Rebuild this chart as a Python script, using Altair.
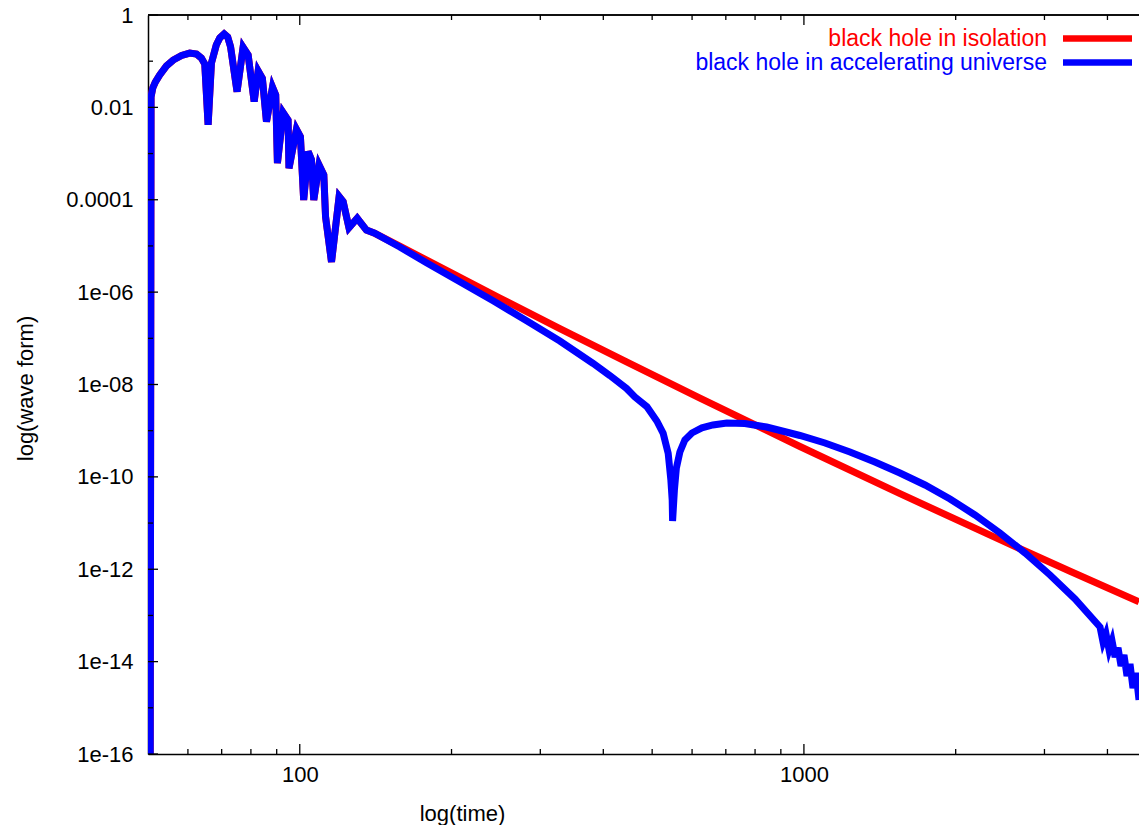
import altair as alt
import pandas as pd

# ---- data ----
# shared ring-down part (both curves coincide here)
t_early = [50.5, 50.7, 51.1, 51.7, 52.75, 54.4, 56.1, 58.3, 60.5, 62.4, 63.8, 64.8,
           65.8, 66.8, 68.3, 69.4, 70.8, 71.95, 72.9, 75.1, 77.2, 79.0,
           81.2, 82.7, 84.3, 85.9, 88.3, 89.6, 90.3, 92.7, 94.8, 95.2, 98.5, 100.3,
           101.8, 103.9, 105.5, 106.6, 109.2, 111.6, 112.5, 115.6, 119.7, 121.9,
           125.2, 130.0, 135.6, 140.8]
v_early = [1e-17, 0.017, 0.0263, 0.0354, 0.0502, 0.0787, 0.106, 0.133, 0.150, 0.143,
           0.117, 0.087, 0.0042, 0.0914, 0.224, 0.318, 0.388, 0.334, 0.206,
           0.0219, 0.2, 0.136, 0.0133, 0.0614, 0.0426, 0.0049, 0.0272, 0.0185, 0.00062,
           0.00767, 0.00533, 0.00048, 0.00335, 0.00232, 9.9e-5, 0.0011, 0.00073, 9.9e-5,
           0.000566, 0.000344, 4.3e-5, 4.5e-6, 0.000117, 9.1e-5, 2.48e-5, 3.97e-5,
           2.2e-5, 1.88e-5]

# power-law tail, isolated black hole
t_isolation = [157.9, 198.5, 249.4, 328.0, 444.8, 622.0, 982, 1550.6, 2448, 3372, 4620]
v_isolation = [9.93e-6, 2.70e-6, 7.46e-7, 1.63e-7, 3.09e-8, 5.06e-9, 4.55e-10,
               4.33e-11, 4.37e-12, 9.04e-13, 1.98e-13]

# tail in the accelerating universe
t_accel = [157.9, 178.4, 207.7, 241.8, 281.8, 328.0, 381.9, 412.2, 444.8, 462.0,
           488.2, 510.8, 525.8, 538.0, 544.6, 547.9, 548.9, 553.5, 558.5, 567.5,
           580.6, 599.5, 627.6, 659.9, 703.4, 763.6, 843.3, 982, 1101, 1234, 1383,
           1550.6, 1738.6, 1949, 2184, 2448, 2745, 3077, 3449, 3867,
           3920, 3974, 4030, 4085, 4142, 4198, 4256, 4314, 4374, 4434, 4495, 4557, 4620]
v_accel = [9.5e-6, 4.30e-6, 1.68e-6, 6.5e-7, 2.41e-7, 8.75e-8, 2.85e-8, 1.56e-8,
           8.2e-9, 5.37e-9, 3.31e-9, 1.62e-9, 8.79e-10, 3.24e-10, 8.57e-11, 3.16e-11,
           1.11e-11, 5.2e-11, 1.56e-10, 3.46e-10, 6.29e-10, 8.91e-10, 1.15e-9,
           1.33e-9, 1.47e-9, 1.43e-9, 1.20e-9, 7.87e-10, 5.42e-10, 3.46e-10, 2.10e-10,
           1.21e-10, 6.68e-11, 3.32e-11, 1.50e-11, 6.10e-12, 2.25e-12, 7.52e-13,
           2.28e-13, 5.62e-14,
           2.66e-14, 3.97e-14, 1.79e-14, 2.8e-14, 1.26e-14, 1.98e-14, 8.05e-15,
           1.39e-14, 4.89e-15, 8.89e-15, 2.69e-15, 5.68e-15, 1.48e-15]

series_names = ["black hole in isolation", "black hole in accelerating universe"]
series_colors = ["#ff0000", "#0000ff"]

x_major = [100, 1000]
x_minor = [60, 70, 80, 90, 200, 300, 400, 500, 600, 700, 800, 900, 2000, 3000, 4000]
y_major = [1, 1e-2, 1e-4, 1e-6, 1e-8, 1e-10, 1e-12, 1e-14, 1e-16]
y_minor = [1e-1, 1e-3, 1e-5, 1e-7, 1e-9, 1e-11, 1e-13, 1e-15]

x_domain = [50, 4620]
y_domain = [1e-16, 1]

# ---- layout ----
W, H = 991, 739
FONT = "Liberation Sans"
FS = 22
FS_LEG = 23
LW = 7

xs = alt.Scale(type="log", domain=x_domain, nice=False)
ys = alt.Scale(type="log", domain=y_domain, nice=False)

x_axis = alt.Axis(values=x_major, format="d", grid=False, ticks=False,
                  domainColor="black", domainWidth=1.5, labelFont=FONT,
                  labelFontSize=FS, labelColor="black", labelPadding=10,
                  labelFlush=False, labelOverlap=False,
                  title="log(time)", titleFont=FONT, titleFontSize=FS,
                  titleFontWeight="normal", titleColor="black",
                  titleX=314, titleY=59, titleAlign="center",
                  titleBaseline="middle", titleAnchor="start")
y_axis = alt.Axis(values=y_major, grid=False, ticks=False,
                  domainColor="black", domainWidth=1.5, labelFont=FONT,
                  labelFontSize=FS, labelColor="black", labelPadding=15,
                  labelFlush=False, labelOverlap=False,
                  labelExpr="datum.value > 0.5 ? '1' : datum.value > 0.005 ? '0.01' : "
                            "datum.value > 0.00005 ? '0.0001' : "
                            "'1e-' + (abs(round(log(datum.value)/LN10)) < 10 ? '0' : '') + "
                            "abs(round(log(datum.value)/LN10))",
                  title="log(wave form)", titleFont=FONT, titleFontSize=FS,
                  titleFontWeight="normal", titleColor="black",
                  titleX=-123, titleY=373, titleAngle=270, titleAlign="center",
                  titleBaseline="middle", titleAnchor="start")


def xenc(field):
    return alt.X(field, type="quantitative", scale=xs, axis=x_axis)


def yenc(field):
    return alt.Y(field, type="quantitative", scale=ys, axis=y_axis)


def series_df(ts, vs):
    return pd.DataFrame({"t": ts, "v": vs, "i": list(range(len(ts)))})


df_iso = series_df(t_early + t_isolation, v_early + v_isolation)
df_acc = series_df(t_early + t_accel, v_early + v_accel)

line_iso = alt.Chart(df_iso).mark_line(
    color=series_colors[0], strokeWidth=LW, clip=True, strokeMiterLimit=4
).encode(x=xenc("t"), y=yenc("v"), order="i:Q")

line_acc = alt.Chart(df_acc).mark_line(
    color=series_colors[1], strokeWidth=LW, clip=True, strokeMiterLimit=4
).encode(x=xenc("t"), y=yenc("v"), order="i:Q")

# inward tick marks (gnuplot style, mirrored on top)
xmaj_df = pd.DataFrame({"tick": x_major})
xmin_df = pd.DataFrame({"tick": x_minor})
ymaj_df = pd.DataFrame({"tick": y_major})
ymin_df = pd.DataFrame({"tick": y_minor})

tick_style = dict(color="black", strokeWidth=1.3)
ticks = [
    alt.Chart(xmaj_df).mark_rule(**tick_style).encode(x=xenc("tick"), y=alt.value(H), y2=alt.value(H - 10)),
    alt.Chart(xmin_df).mark_rule(**tick_style).encode(x=xenc("tick"), y=alt.value(H), y2=alt.value(H - 5)),
    alt.Chart(xmaj_df).mark_rule(**tick_style).encode(x=xenc("tick"), y=alt.value(0), y2=alt.value(10)),
    alt.Chart(xmin_df).mark_rule(**tick_style).encode(x=xenc("tick"), y=alt.value(0), y2=alt.value(5)),
    alt.Chart(ymaj_df).mark_rule(**tick_style).encode(y=yenc("tick"), x=alt.value(0), x2=alt.value(10)),
    alt.Chart(ymin_df).mark_rule(**tick_style).encode(y=yenc("tick"), x=alt.value(0), x2=alt.value(5)),
]

top_border = alt.Chart(xmaj_df).mark_rule(color="black", strokeWidth=1.5).encode(
    x=alt.value(0), x2=alt.value(W), y=alt.value(0))

# legend (text right-aligned, sample line to its right)
legend_layers = []
for k, (name, col) in enumerate(zip(series_names, series_colors)):
    ld = pd.DataFrame({"name": [name]})
    yrow = 23.5 + 24 * k
    legend_layers.append(
        alt.Chart(ld).mark_text(align="right", baseline="middle", font=FONT,
                                fontSize=FS_LEG, color=col).encode(
            text="name:N", x=alt.value(899), y=alt.value(yrow)))
    legend_layers.append(
        alt.Chart(ld).mark_rule(color=col, strokeWidth=6.5).encode(
            x=alt.value(915), x2=alt.value(984), y=alt.value(yrow)))

chart = alt.layer(line_iso, line_acc, *ticks, top_border, *legend_layers).properties(
    width=W, height=H,
    autosize=alt.AutoSizeParams(type="none"),
    padding={"left": 148, "top": 15, "right": 0, "bottom": 71},
    background="white",
).configure_view(stroke=None)

chart.save("out.html", embed_options={"renderer": "svg", "actions": False})
